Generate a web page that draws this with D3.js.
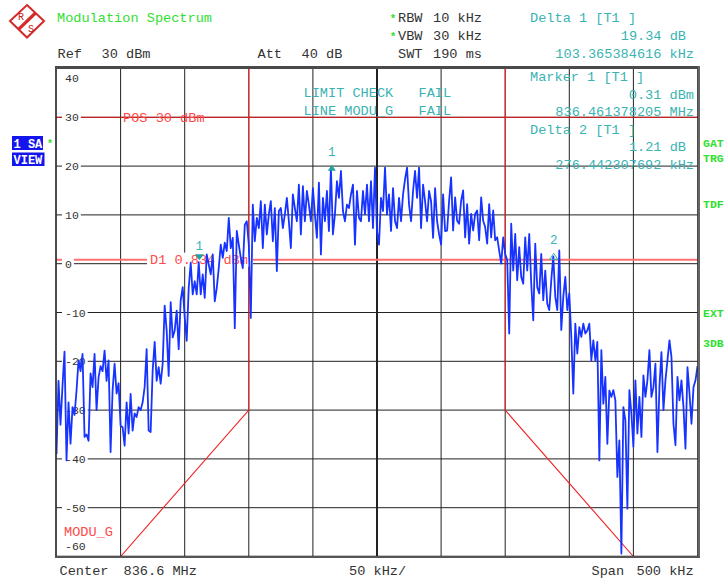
<!DOCTYPE html>
<html>
<head>
<meta charset="utf-8">
<script src="https://cdn.jsdelivr.net/npm/d3@7"></script>
<style>
  body { margin: 0; background: #fff; }
  svg { display: block; }
  text { font-family: "Liberation Mono", "DejaVu Sans Mono", monospace; white-space: pre; }
</style>
</head>
<body>
<svg id="chart" width="726" height="578"></svg>
<script>
// Sweep setup
const centerMHz = 836.6;
const spanKHz = 500;
const freqTicks = [-250, -200, -150, -100, -50, 0, 50, 100, 150, 200, 250]; // kHz offset
const levelTicks = [40, 30, 20, 10, 0, -10, -20, -30, -40, -50, -60];     // dBm

// Trace 1 (dBm), evenly spaced across the span
const traceLevels = [
  -39, -24, -33, -25, -18, -40.3, -28.4, -36.9, -29.4, -31,
  -26, -19.8, -22, -18.5, -35.5, -35, -36.3, -22.5, -25.3, -18.5,
  -30, -23.3, -21, -22, -17.8, -24, -19.8, -38.6, -26, -20.5,
  -26.6, -24.5, -33.2, -33.5, -37.3, -28.4, -34.8, -26.7, -34.2, -30.7,
  -31.4, -29.4, -30, -28.4, -25.3, -17.5, -34.2, -34.5, -22, -16,
  -24, -21.2, -24.6, -20.5, -8.6, -13.7, -23, -7.9, -15.1, -13.7,
  -9.6, -17.5, -7.5, -4.8, -11, -15.8, -5, 0.2, -6.3, -3.6,
  -6.3, 0.31, -6.3, -2.2, -7, 1.9, -0.2, -2.2, 1.9, -7.7,
  -5, -0.9, 3.9, 1.2, 4.3, 2.6, 9.4, 3.2, 5.3, -13.2,
  6.7, 3.9, 1.2, -0.9, 8, 8.7, 3.9, -11.1, 12.1, 4.6,
  9.4, 7.3, 12.8, 3.2, 12.1, 6, 10.1, 12.8, 4.6, 11.4,
  -1.5, 10.8, 11.4, 7.3, 10.1, 13.5, 8.7, 3.2, 14.2, 11.4,
  8.7, 16.2, 6, 15.9, 8.7, 14.9, 12.1, 8.7, 15.5, 10.1,
  5.3, 16.6, 1.9, 13.5, 8.7, 14.9, 6.7, 19.65, 6, 10.1,
  16.9, 13.5, 19, 10.8, 8.7, 12.1, 11.4, 14.2, 16.2, 3.9,
  14.9, 9.4, 8.7, 14.9, 10.1, 16.2, 8.7, 16.9, 7.3, 19.7,
  6.7, 3.9, 13.5, 10.8, 19.7, 10.1, 14.2, 6.7, 15.5, 8.7,
  7.3, 13.5, 8.7, 14.2, 17.3, 19.7, 12.1, 8.7, 14.9, 19,
  13.5, 19.7, 7.3, 16.2, 12.8, 8.7, 14.9, 12.8, 5.3, 15.5,
  8.7, 6, 3.9, 14.2, 6.7, 6.8, 12.9, 17.7, 6.8, 13.6,
  8.8, 8.2, 12.9, 15, 5.4, 12.2, 4.1, 10.2, 6.8, 10.2,
  10.9, 4.8, 13.6, 8.8, 7.5, 4.1, 12.2, 5.4, 10.9, 4.8,
  5.4, 2.7, 0, 5.4, 2, 0.7, -14.3, 8.2, -1.4, 6.1,
  -3.4, 3.4, -2.7, -4.1, 5.4, -1.4, 6.1, -4.1, -11.6, 4.1,
  -4.8, -6.1, 2, -7.5, -1.4, -8.2, -9.5, -3.4, 1.52, -6.8,
  -9.5, 2.7, -13.6, -6.8, -2.7, -9.5, -6.1, -15, -26.6, -12.3,
  -18.4, -13, -15, -12.3, -14.3, -13.7, -12.3, -19.8, -15.7, -19.8,
  -16, -40.3, -17.7, -28.7, -23.2, -36.9, -26, -27.3, -25.9, -28,
  -43.7, -36.2, -59.4, -29.4, -32.1, -50.2, -25.9, -30.7, -37.5, -23.9,
  -34.8, -27.3, -35.5, -22.9, -27.3, -23.9, -17.7, -27.3, -25.3, -20.5,
  -38.6, -25.3, -18.1, -30, -23.9, -19.8, -15.7, -19.1, -32.8, -37.2,
  -23.2, -28, -23.9, -29.4, -37.9, -21.2, -26.6, -32.8, -25.3, -23.9, -21
];

// Limit line MODU_G (kHz offset, dBm)
const limitFreqs  = [-205, -200, -100, -100, 100, 100, 200, 205];
const limitLevels = [-60, -60, -30, 45, 45, -30, -60, -60];

// Display lines
const posLevel = 30;
const displayLine1 = 0.834;

// Markers (kHz offset from center, level in dBm)
const markerNames   = ["1", "1", "2"];
const markerKinds   = ["marker", "delta", "delta"];
const markerOffsets = [-138.621795, -35.256410, 137.820513];
const markerLevels  = [0.31, 19.65, 1.52];

const svg = d3.select("#chart");
const x = d3.scaleLinear().domain([-250, 250]).range([56.5, 697.5]);
const y = d3.scaleLinear().domain([-60, 40]).range([556.5, 68.5]);

const TEAL = "#3ab3b3";
const MARK = "#23a0a0";
const GREEN = "#2fe02f";
const RED = "#ff4a4a";
const DARK = "#333";

svg.append("clipPath").attr("id", "plotClip")
  .append("rect").attr("x", 56.5).attr("y", 68.5).attr("width", 641).attr("height", 488);

// ---- grid ----
const grid = svg.append("g").attr("stroke", "#222").attr("stroke-width", 1).attr("fill", "none");
grid.selectAll("line.v").data(freqTicks.slice(1, -1)).join("line")
  .attr("x1", d => x(d)).attr("x2", d => x(d)).attr("y1", y(40)).attr("y2", y(-60));
grid.selectAll("line.h").data(levelTicks.slice(1, -1)).join("line")
  .attr("y1", d => y(d)).attr("y2", d => y(d)).attr("x1", x(-250)).attr("x2", x(250));
// centre line drawn heavier
grid.append("line").attr("x1", x(0)).attr("x2", x(0)).attr("y1", y(40)).attr("y2", y(-60))
  .attr("stroke-width", 2);

// ---- display lines ----
svg.append("line").attr("x1", x(-250)).attr("x2", x(250))
  .attr("y1", y(posLevel)).attr("y2", y(posLevel))
  .attr("stroke", "#e01818").attr("stroke-width", 1);
svg.append("line").attr("x1", x(-250)).attr("x2", x(250))
  .attr("y1", y(displayLine1)).attr("y2", y(displayLine1))
  .attr("stroke", "#ff7070").attr("stroke-width", 2);

// ---- limit line ----
const limitLine = d3.line().x((d, i) => x(limitFreqs[i])).y((d, i) => y(limitLevels[i]));
svg.append("path").datum(limitLevels).attr("d", limitLine)
  .attr("clip-path", "url(#plotClip)")
  .attr("fill", "none").attr("stroke", "#f02020").attr("stroke-width", 1.1);

// ---- level labels ----
const lab = svg.append("g");
levelTicks.forEach(v => {
  const txt = String(v);
  let cy = y(v);
  if (v === 40) cy = y(v) + 9;
  if (v === -60) cy = y(v) - 10.5;
  if (v !== 40 && v !== -60) {
    lab.append("rect").attr("x", 62).attr("y", cy - 6)
      .attr("width", txt.length * 6.9 + 5).attr("height", 12).attr("fill", "#fff");
  }
  lab.append("text").attr("x", 65).attr("y", cy + 4)
    .attr("font-size", 11.5).attr("fill", DARK).text(txt);
});

// display line labels
svg.append("text").attr("x", 123).attr("y", y(posLevel) + 4.5)
  .attr("font-size", 13.6).attr("fill", RED).text("POS 30 dBm");
svg.append("rect").attr("x", 147).attr("y", y(displayLine1) - 7)
  .attr("width", 106).attr("height", 14).attr("fill", "#fff");
svg.append("text").attr("x", 150).attr("y", y(displayLine1) + 4.5)
  .attr("font-size", 13.6).attr("fill", RED).text("D1 0.834 dBm");
svg.append("text").attr("x", 64).attr("y", 535.5)
  .attr("font-size", 13.6).attr("fill", RED).text("MODU_G");

// ---- trace ----
const step = spanKHz / (traceLevels.length - 1);
const traceLine = d3.line()
  .x((d, i) => x(-spanKHz / 2 + i * step))
  .y(d => y(d));
svg.append("path").datum(traceLevels).attr("d", traceLine)
  .attr("clip-path", "url(#plotClip)")
  .attr("fill", "none").attr("stroke", "#1733ff").attr("stroke-width", 1.8)
  .attr("stroke-linejoin", "round");

// ---- markers ----
markerOffsets.forEach((f, i) => {
  const mx = x(f), my = y(markerLevels[i]);
  let pts;
  if (markerKinds[i] === "marker") {
    pts = [[mx - 4.5, my - 8], [mx + 4.5, my - 8], [mx, my - 2]];
  } else {
    pts = [[mx, my - 3], [mx - 4, my + 3], [mx + 4, my + 3]];
  }
  const tri = svg.append("path").attr("d", d3.line()(pts) + "Z");
  if (i === 2) tri.attr("fill", "none").attr("stroke", TEAL).attr("stroke-width", 1);
  else tri.attr("fill", MARK);
  svg.append("text").attr("x", mx).attr("y", my - 12).attr("text-anchor", "middle")
    .attr("font-size", 12.5).attr("fill", TEAL).text(markerNames[i]);
});

// ---- frame ----
svg.append("rect").attr("x", 56).attr("y", 68).attr("width", 642).attr("height", 488.5)
  .attr("fill", "none").attr("stroke", "#111").attr("stroke-width", 1.5);
svg.append("rect").attr("x", 55).attr("y", 66).attr("width", 645).attr("height", 3).attr("fill", "#4a4a4a");
svg.append("rect").attr("x", 698).attr("y", 66).attr("width", 2).attr("height", 492).attr("fill", "#666");
svg.append("rect").attr("x", 55).attr("y", 556).attr("width", 645).attr("height", 2).attr("fill", "#555");

// ---- header ----
function t(xp, yp, s, color, size, anchor, weight) {
  return svg.append("text").attr("x", xp).attr("y", yp).attr("font-size", size || 13.6)
    .attr("fill", color).attr("text-anchor", anchor || "start")
    .attr("font-weight", weight || "normal").text(s);
}
t(57, 21.5, "Modulation Spectrum", GREEN);
t(57.5, 57.5, "Ref", DARK); t(101.5, 57.5, "30 dBm", DARK);
t(257.5, 57.5, "Att", DARK); t(301.5, 57.5, "40 dB", DARK);
t(393, 21.5, "*", GREEN, 11, "middle", "bold");
t(393, 39.5, "*", GREEN, 11, "middle", "bold");
t(398, 21.5, "RBW", DARK); t(433, 21.5, "10 kHz", DARK);
t(398, 39.5, "VBW", DARK); t(433, 39.5, "30 kHz", DARK);
t(398, 57.5, "SWT", DARK); t(433, 57.5, "190 ms", DARK);
t(530, 21.5, "Delta 1 [T1 ]", TEAL);
t(686, 39.5, "19.34 dB", TEAL, 13.6, "end");
t(694, 57.5, "103.365384616 kHz", TEAL, 13.6, "end");

// marker table inside the diagram
t(530, 81, "Marker 1 [T1 ]", TEAL);
t(694, 98.5, "0.31 dBm", TEAL, 13.6, "end");
t(694, 116, "836.461378205 MHz", TEAL, 13.6, "end");
t(530, 133.5, "Delta 2 [T1 ]", TEAL);
t(686, 151, "1.21 dB", TEAL, 13.6, "end");
t(694, 168.5, "276.442307692 kHz", TEAL, 13.6, "end");
t(303.5, 97, "LIMIT CHECK", TEAL); t(418.5, 97, "FAIL", TEAL);
t(303.5, 114.5, "LINE MODU_G", TEAL); t(418.5, 114.5, "FAIL", TEAL);

// left status boxes
svg.append("rect").attr("x", 12).attr("y", 136).attr("width", 31).attr("height", 14).attr("fill", "#1414ee");
svg.append("rect").attr("x", 12).attr("y", 152.5).attr("width", 32.5).attr("height", 13.5).attr("fill", "#1414ee");
t(13.5, 147.5, "1 SA", "#fff", 12, "start", "bold");
t(13.5, 163.5, "VIEW", "#fff", 12, "start", "bold");
t(50, 147, "*", GREEN, 10, "middle", "bold");

// right status labels
[["GAT", 147], ["TRG", 162], ["TDF", 208], ["EXT", 317], ["3DB", 347]].forEach(d =>
  t(703, d[1], d[0], GREEN, 11.5, "start", "bold"));

// footer
t(59.5, 575, "Center", DARK); t(123.5, 575, centerMHz + " MHz", DARK);
t(349, 575, (spanKHz / 10) + " kHz/", DARK);
t(591.5, 575, "Span", DARK); t(636.5, 575, spanKHz + " kHz", DARK);

// ---- logo ----
const logo = svg.append("g").attr("transform", "translate(27,21)");
logo.append("path").attr("d", "M0,-16 L17,0 L0,16.5 L-17,0 Z")
  .attr("fill", "#fff").attr("stroke", "#d42a2a").attr("stroke-width", 2);
logo.append("line").attr("x1", 8.5).attr("y1", -8).attr("x2", -8.5).attr("y2", 8.3)
  .attr("stroke", "#d42a2a").attr("stroke-width", 3.2);
logo.append("text").attr("x", -6).attr("y", -1.5).attr("text-anchor", "middle")
  .attr("font-family", "Liberation Sans, Arial, sans-serif").attr("font-size", 10)
  .attr("fill", "#c82020").text("R");
logo.append("text").attr("x", 4).attr("y", 11).attr("text-anchor", "middle")
  .attr("font-family", "Liberation Sans, Arial, sans-serif").attr("font-size", 10)
  .attr("fill", "#c82020").text("S");
</script>
</body>
</html>
